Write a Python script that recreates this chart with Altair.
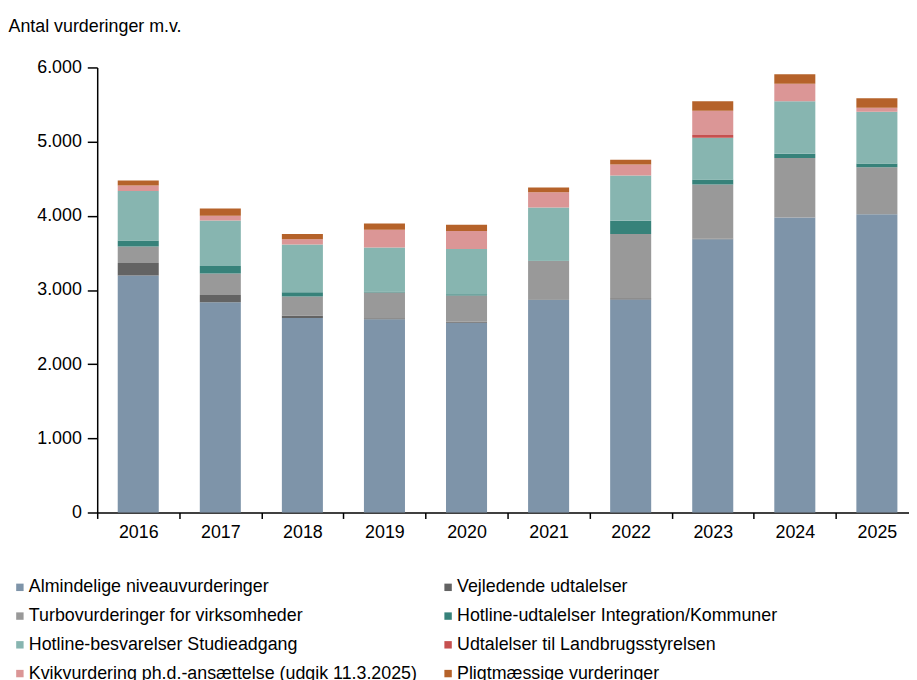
import altair as alt
import pandas as pd

years = list(range(2016, 2026))

series = [
    "Almindelige niveauvurderinger",
    "Vejledende udtalelser",
    "Turbovurderinger for virksomheder",
    "Hotline-udtalelser Integration/Kommuner",
    "Hotline-besvarelser Studieadgang",
    "Udtalelser til Landbrugsstyrelsen",
    "Kvikvurdering ph.d.-ansættelse (udgik 11.3.2025)",
    "Pligtmæssige vurderinger",
]
colors = ["#7e94a9", "#636363", "#999999", "#37827a", "#87b5b0", "#c6504f", "#db9696", "#b5622a"]

alm = [3194, 2833, 2623, 2606, 2557, 2869, 2873, 3684, 3978, 4022]
vej = [170, 98, 32, 13, 13, 5, 17, 5, 0, 0]
turbo = [222, 290, 258, 348, 357, 516, 865, 734, 802, 633]
hot_int = [80, 102, 58, 13, 17, 8, 178, 67, 58, 49]
hot_stud = [668, 615, 641, 592, 607, 714, 611, 561, 708, 699]
land = [0, 0, 0, 0, 0, 0, 0, 40, 0, 0]
kvik = [76, 62, 72, 240, 245, 204, 147, 325, 236, 54]
plig = [67, 99, 71, 85, 84, 67, 66, 130, 125, 129]

values = [alm, vej, turbo, hot_int, hot_stud, land, kvik, plig]

rows = []
for i, (name, vals) in enumerate(zip(series, values)):
    for y, v in zip(years, vals):
        rows.append({"year": y, "series": name, "value": v, "idx": i})
df = pd.DataFrame(rows)

# legend fills column by column: reorder so it reads row by row (2 columns)
legend_order = [0, 2, 4, 6, 1, 3, 5, 7]
dom = [series[k] for k in legend_order]
rng = [colors[k] for k in legend_order]

font = "Liberation Sans"

plot_w = 819          # visible plot width (page is cropped at the right, as in the reference)
step = 82.8           # category step in px
x_min = years[0] - 0.5
x_max = x_min + plot_w / step
boundaries = [y - 0.5 for y in years]

chart = alt.Chart(df).mark_bar(width=step / 2).encode(
    x=alt.X(
        "year:Q",
        scale=alt.Scale(domain=[x_min, x_max], nice=False, zero=False, padding=0),
        axis=alt.Axis(
            title=None, values=boundaries,
            labelExpr="format(datum.value + 0.5, 'd')",
            labelOffset=step / 2, labelFlush=False, labelOverlap=False,
            labelAngle=0, tickSize=6, tickWidth=1.5,
            domainWidth=1.5, labelPadding=5, labelFontSize=18, labelFont=font,
            labelColor="black", domainColor="black", tickColor="black", grid=False,
        ),
    ),
    y=alt.Y(
        "value:Q",
        stack="zero",
        scale=alt.Scale(domain=[0, 6000], nice=False),
        axis=alt.Axis(
            values=[0, 1000, 2000, 3000, 4000, 5000, 6000],
            labelExpr="replace(format(datum.value, ','), ',', '.')",
            title="Antal vurderinger m.v.", titleAngle=0, titleX=-90, titleY=-36,
            titleAlign="left", titleBaseline="alphabetic", titleFontSize=18,
            titleFont=font, titleFontWeight="normal", titleColor="black",
            grid=False, tickSize=10, tickWidth=1.5, domainWidth=1.5,
            labelPadding=6, labelFontSize=18, labelFont=font, labelColor="black",
            domainColor="black", tickColor="black",
        ),
    ),
    color=alt.Color(
        "series:N",
        scale=alt.Scale(domain=dom, range=rng),
        sort=dom,
        legend=alt.Legend(
            title=None, orient="none", legendX=-87, legendY=515.5, columns=2,
            symbolType="square", symbolSize=56, symbolStrokeWidth=0,
            labelFontSize=18, labelFont=font, labelColor="black",
            rowPadding=11, columnPadding=22, labelOffset=0, labelLimit=600,
        ),
    ),
    order=alt.Order("idx:Q", sort="ascending"),
).properties(
    width=plot_w,
    height=449,
    autosize=alt.AutoSizeParams(type="none"),
    padding={"left": 90, "top": 57, "right": 0, "bottom": 166},
).configure_view(stroke=None)

chart.save("out.html", embed_options={"renderer": "svg", "actions": False})
